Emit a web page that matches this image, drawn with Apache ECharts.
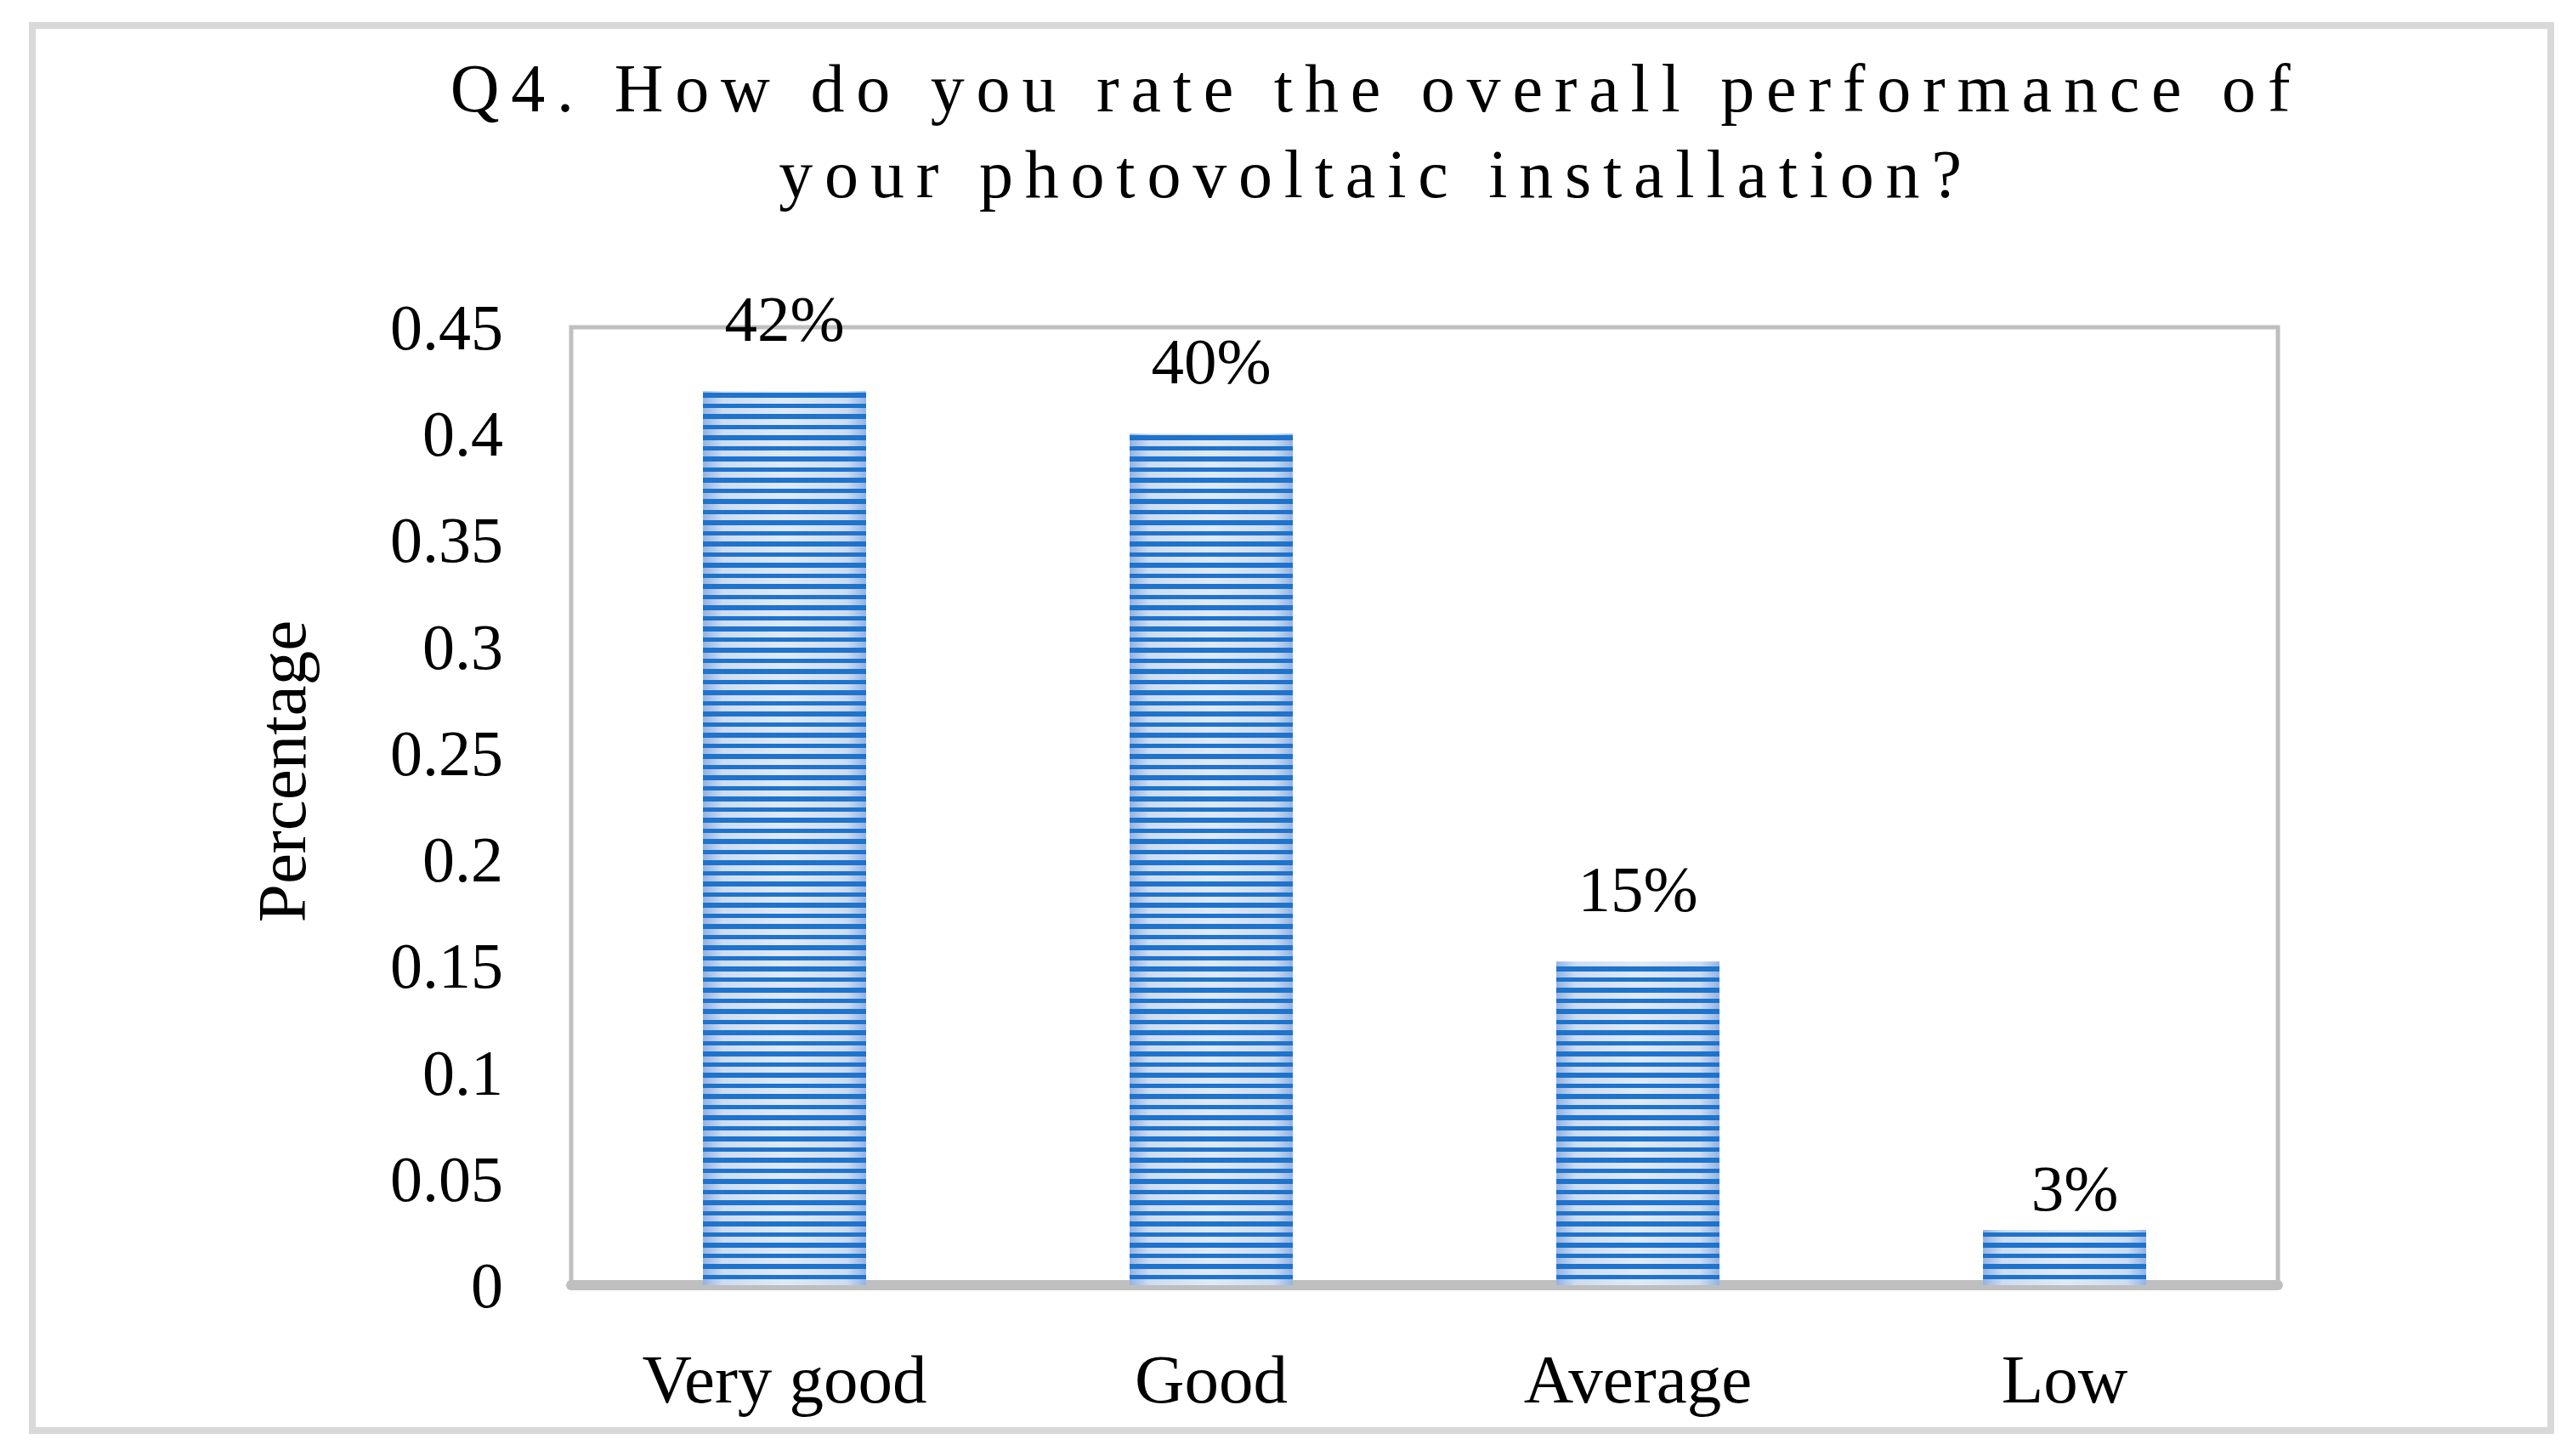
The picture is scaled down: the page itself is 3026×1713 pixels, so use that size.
<!DOCTYPE html>
<html>
<head>
<meta charset="utf-8">
<script src="https://cdn.jsdelivr.net/npm/echarts@6/dist/echarts.min.js"></script>
<style>
  html, body { margin: 0; padding: 0; background: #ffffff; }
  #chart { width: 3026px; height: 1713px; }
  text[style*="trk"] { letter-spacing: 13.8px; }
</style>
</head>
<body>
<div id="chart"></div>
<script>
const titleLines = ['Q4. How do you rate the overall performance of', 'your photovoltaic installation?'];
const categories = ['Very good', 'Good', 'Average', 'Low'];
const values = [0.42, 0.40, 0.152, 0.026];
const labelTexts = ['42%', '40%', '15%', '3%'];
const yTicks = { min: 0, max: 0.45, interval: 0.05 };
const yAxisName = 'Percentage';

const serif = "'Liberation Serif', 'Times New Roman', serif";
const G = { left: 672, right: 3026 - 2680, top: 385, bottom: 1713 - 1512 };

const chart = echarts.init(document.getElementById('chart'), null, { renderer: 'svg' });

const lastIdx = categories.length - 1;
const barData = values.map((v, i) => ({
  value: v,
  label: i === lastIdx ? { distance: 10, offset: [12, 0] } : { distance: 47 }
}));

chart.setOption({
  animation: false,
  backgroundColor: '#ffffff',
  title: {
    text: titleLines.join('\n'),
    left: 1614,
    top: 48,
    textAlign: 'center',
    textStyle: {
      fontFamily: "'Liberation Serif', trk, serif",
      fontSize: 80,
      fontWeight: 'normal',
      color: '#000000',
      lineHeight: 101
    }
  },
  graphic: [{
    type: 'rect',
    shape: { x: 38, y: 30, width: 2963, height: 1653 },
    style: { fill: 'none', stroke: '#d9d9d9', lineWidth: 8 },
    silent: true,
    z: -10
  }],
  grid: {
    left: G.left, right: G.right, top: G.top, bottom: G.bottom,
    show: true,
    borderColor: '#bfbfbf',
    borderWidth: 5,
    backgroundColor: 'transparent'
  },
  xAxis: {
    type: 'category',
    data: categories,
    offset: 6,
    axisLine: { show: true, lineStyle: { color: '#bfbfbf', width: 12 } },
    axisTick: { show: false },
    axisLabel: { margin: 64, fontFamily: serif, fontSize: 81, color: '#000000' }
  },
  yAxis: {
    type: 'value',
    min: yTicks.min,
    max: yTicks.max,
    interval: yTicks.interval,
    name: yAxisName,
    nameLocation: 'middle',
    nameGap: 300,
    nameTextStyle: { fontFamily: serif, fontSize: 81, color: '#000000', padding: [0, 0, 0, 82] },
    axisLine: { show: false },
    axisTick: { show: false },
    splitLine: { show: false },
    axisLabel: { margin: 80, fontFamily: serif, fontSize: 76, color: '#000000' }
  },
  series: [{
    type: 'bar',
    data: barData,
    barWidth: 192,
    itemStyle: {
      color: {
        type: 'linear', x: 0, y: 0, x2: 1, y2: 0,
        colorStops: [
          { offset: 0, color: '#93b3e2' },
          { offset: 0.12, color: '#cddcf2' },
          { offset: 0.5, color: '#e0eaf7' },
          { offset: 0.88, color: '#cddcf2' },
          { offset: 1, color: '#93b3e2' }
        ]
      },
      decal: {
        symbol: 'rect',
        symbolSize: 1,
        color: '#1e73cc',
        dashArrayX: [[10, 0]],
        dashArrayY: [5, 7, 6, 7],
        rotation: 0
      }
    },
    label: {
      show: true,
      position: 'top',
      fontFamily: serif,
      fontSize: 77,
      color: '#000000',
      formatter: p => labelTexts[p.dataIndex]
    }
  }]
});
</script>
</body>
</html>
